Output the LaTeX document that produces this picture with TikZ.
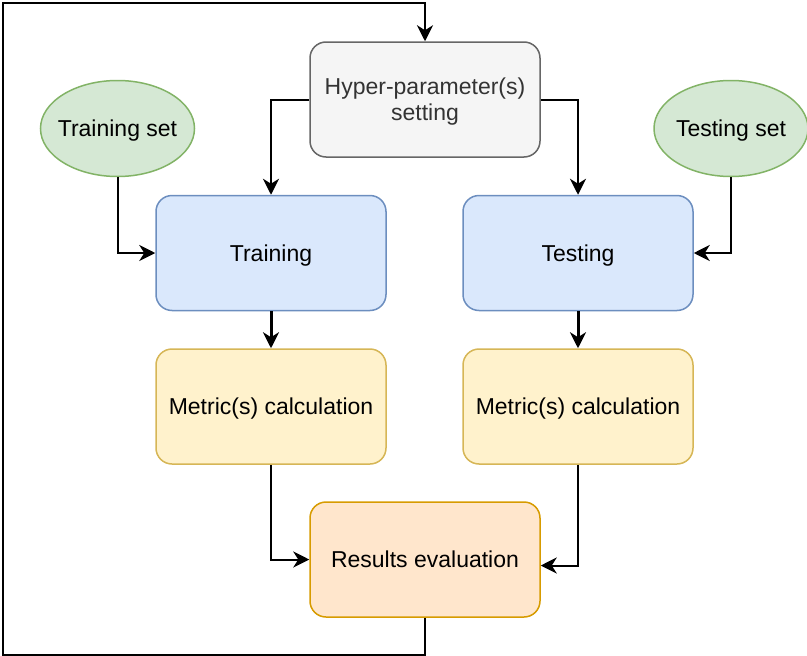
\documentclass[tikz,border=0pt]{standalone}
\usepackage{fontspec}
\setmainfont{Liberation Sans}
\usetikzlibrary{arrows.meta,shapes.geometric,calc}

\definecolor{greyfill}{HTML}{F5F5F5}
\definecolor{greyline}{HTML}{666666}
\definecolor{greytext}{HTML}{333333}
\definecolor{greenfill}{HTML}{D5E8D4}
\definecolor{greenline}{HTML}{82B366}
\definecolor{bluefill}{HTML}{DAE8FC}
\definecolor{blueline}{HTML}{6C8EBF}
\definecolor{yellowfill}{HTML}{FFF2CC}
\definecolor{yellowline}{HTML}{D6B656}
\definecolor{orangefill}{HTML}{FFE6CC}
\definecolor{orangeline}{HTML}{D79B00}

% centred label of zero width, lowered a little below the geometric middle
\newcommand{\boxlabel}[1]{\makebox[0pt]{\raisebox{-3pt}[\height][\depth]{\begin{tabular}{@{}c@{}}#1\end{tabular}}}}

\tikzset{
  box/.style={rectangle, rounded corners=16pt, minimum width=230pt, minimum height=115pt,
    line width=1.5pt, inner sep=0pt, font=\fontsize{23}{26}\selectfont},
  dataset/.style={ellipse, minimum width=154pt, minimum height=96pt, inner sep=0pt,
    line width=1.5pt, draw=greenline, fill=greenfill, font=\fontsize{23}{26}\selectfont},
  hyperbox/.style={box, draw=greyline, fill=greyfill, text=greytext},
  stagebox/.style={box, draw=blueline, fill=bluefill},
  metricbox/.style={box, draw=yellowline, fill=yellowfill},
  resultbox/.style={box, draw=orangeline, fill=orangefill},
  arr/.style={draw=black, line width=2pt, -{Stealth[length=16pt,width=16pt,inset=5pt]}},
  heavyarr/.style={arr, line width=3pt}
}

\begin{document}
\begin{tikzpicture}[x=1pt,y=-1pt]
  \useasboundingbox (0,0) rectangle (807,656);

  \node[hyperbox] (hyper) at (425,99.5) {\boxlabel{Hyper-parameter(s)\\setting}};
  \node[dataset] (trainset) at (117.5,128.5) {\boxlabel{Training set}};
  \node[dataset] (testset) at (731,128.5) {\boxlabel{Testing set}};
  \node[stagebox] (train) at (271,253) {\boxlabel{Training}};
  \node[stagebox] (test) at (578,253) {\boxlabel{Testing}};
  \node[metricbox] (met1) at (271,406.5) {\boxlabel{Metric(s) calculation}};
  \node[metricbox] (met2) at (578,406.5) {\boxlabel{Metric(s) calculation}};
  \node[resultbox] (res) at (425,559.5) {\boxlabel{Results evaluation}};

  \coordinate (resin) at ($(res.east)+(0,6)$);
  \coordinate (loopbl) at (3,655);
  \coordinate (looptl) at (3,3);

  \draw[arr] (hyper.west) -| (train.north);
  \draw[arr] (hyper.east) -| (test.north);
  \draw[arr] (trainset.south) |- (train.west);
  \draw[arr] (testset.south) |- (test.east);
  \draw[heavyarr] (train.south) -- (met1.north);
  \draw[heavyarr] (test.south) -- (met2.north);
  \draw[arr] (met1.south) |- (res.west);
  \draw[arr] (met2.south) |- (resin);
  \draw[arr] (res.south) |- (loopbl) -- (looptl) -| (hyper.north);
\end{tikzpicture}
\end{document}
